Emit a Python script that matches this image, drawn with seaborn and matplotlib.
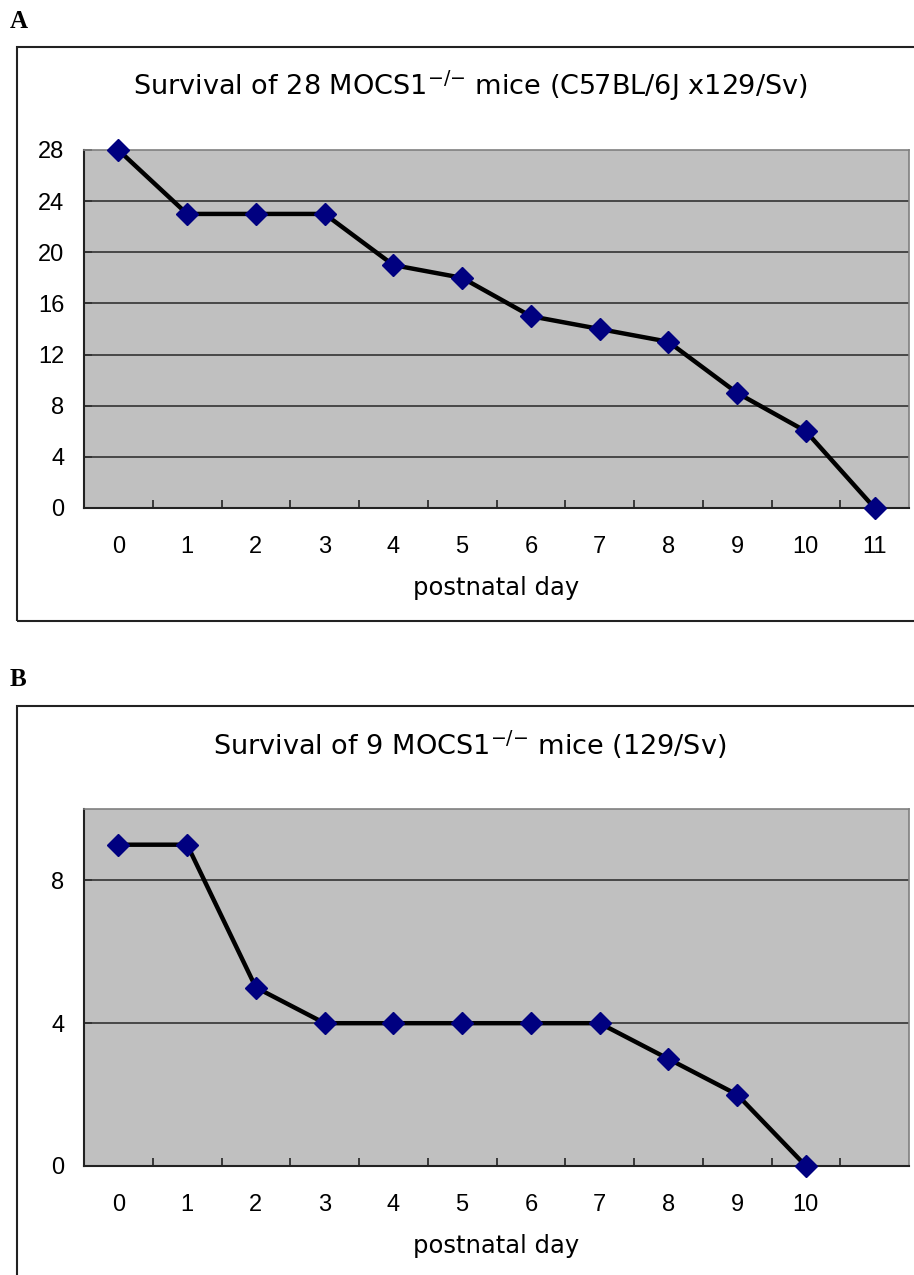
import matplotlib
matplotlib.use("Agg")
import matplotlib.pyplot as plt
import seaborn as sns
import numpy as np
from matplotlib.patches import Rectangle

# ---- data ----
days_a = [0, 1, 2, 3, 4, 5, 6, 7, 8, 9, 10, 11]
surv_a = [28, 23, 23, 23, 19, 18, 15, 14, 13, 9, 6, 0]
days_b = [0, 1, 2, 3, 4, 5, 6, 7, 8, 9, 10]
surv_b = [9, 9, 5, 4, 4, 4, 4, 4, 3, 2, 0]
xlabels_a = ["0", "1", "2", "3", "4", "5", "6", "7", "8", "9", "10", "11"]
xlabels_b = ["0", "1", "2", "3", "4", "5", "6", "7", "8", "9", "10", ""]
yticks_a = [0, 4, 8, 12, 16, 20, 24, 28]
yticks_b = [0, 4, 8]
title_a = "Survival of 28 MOCS1$^{\\text{\u2212/\u2212}}$ mice (C57BL/6J x129/Sv)"
title_b = "Survival of 9 MOCS1$^{\\text{\u2212/\u2212}}$ mice (129/Sv)"
xlabel = "postnatal day"

sns.set_style("white")
plt.rcParams['font.family'] = ['Liberation Sans', 'DejaVu Sans']
plt.rcParams['text.color'] = 'black'
plt.rcParams['axes.labelcolor'] = 'black'
plt.rcParams['xtick.color'] = 'black'
plt.rcParams['ytick.color'] = 'black'

W, H = 914, 1275
fig = plt.figure(figsize=(W / 100, H / 100), dpi=100)

def fx(px):
    return px / W

def fy(py):
    return 1 - py / H

# outer frames
fig.add_artist(Rectangle((fx(17), fy(621)), fx(930 - 17), fy(47) - fy(621),
                         transform=fig.transFigure, fill=False, lw=1.5,
                         edgecolor='#222222', clip_on=False))
fig.add_artist(Rectangle((fx(17), fy(1300)), fx(930 - 17), fy(706) - fy(1300),
                         transform=fig.transFigure, fill=False, lw=1.5,
                         edgecolor='#222222', clip_on=False))

fig.text(fx(10), fy(22), "A", family='Liberation Serif', weight='bold',
         fontsize=18, va='center', ha='left')
fig.text(fx(10), fy(680), "B", family='Liberation Serif', weight='bold',
         fontsize=18, va='center', ha='left')

fig.text(fx(470), fy(86), title_a, fontsize=19.5, family='DejaVu Sans',
         ha='center', va='center')
fig.text(fx(470), fy(745), title_b, fontsize=19.5, family='DejaVu Sans',
         ha='center', va='center')

left, right = 84, 909
axA = fig.add_axes([fx(left), fy(508), fx(right - left), fy(150) - fy(508)])
axB = fig.add_axes([fx(left), fy(1166), fx(right - left), fy(809) - fy(1166)])

def style(ax, days, surv, xlabels, yticks, ymax):
    ax.set_facecolor('#C0C0C0')
    for y in yticks[1:]:
        if y < ymax:
            ax.axhline(y, color='#333333', lw=1.2, zorder=1)
    sns.lineplot(x=days, y=surv, ax=ax, color='black', lw=3.2,
                 marker='D', markersize=11, markerfacecolor='#000080',
                 markeredgecolor='#000080', markeredgewidth=1, zorder=3,
                 clip_on=False)
    ax.set_xlim(-0.5, 11.5)
    ax.set_ylim(0, ymax)
    ax.set_xticks(range(12))
    ax.set_xticklabels(xlabels)
    ax.set_xticks(np.arange(0.5, 11.0, 1.0), minor=True)
    ax.tick_params(axis='x', which='major', length=0, pad=20, labelsize=17)
    ax.tick_params(axis='x', which='minor', direction='in', length=6,
                   width=1.2, color='#222222', bottom=True)
    ax.set_yticks(yticks)
    ax.tick_params(axis='y', which='major', direction='in', length=6,
                   width=1.2, color='#222222', pad=14, labelsize=17, left=True)
    ax.set_xlabel(xlabel, fontsize=17.5, family='DejaVu Sans', labelpad=13)
    ax.set_ylabel("")
    for s in ['top', 'right']:
        ax.spines[s].set_color('#808080')
        ax.spines[s].set_linewidth(1.2)
    for s in ['left', 'bottom']:
        ax.spines[s].set_color('#222222')
        ax.spines[s].set_linewidth(1.5)
    ax.grid(False)

style(axA, days_a, surv_a, xlabels_a, yticks_a, 28)
style(axB, days_b, surv_b, xlabels_b, yticks_b, 10)

fig.savefig("out.png", dpi=100)
